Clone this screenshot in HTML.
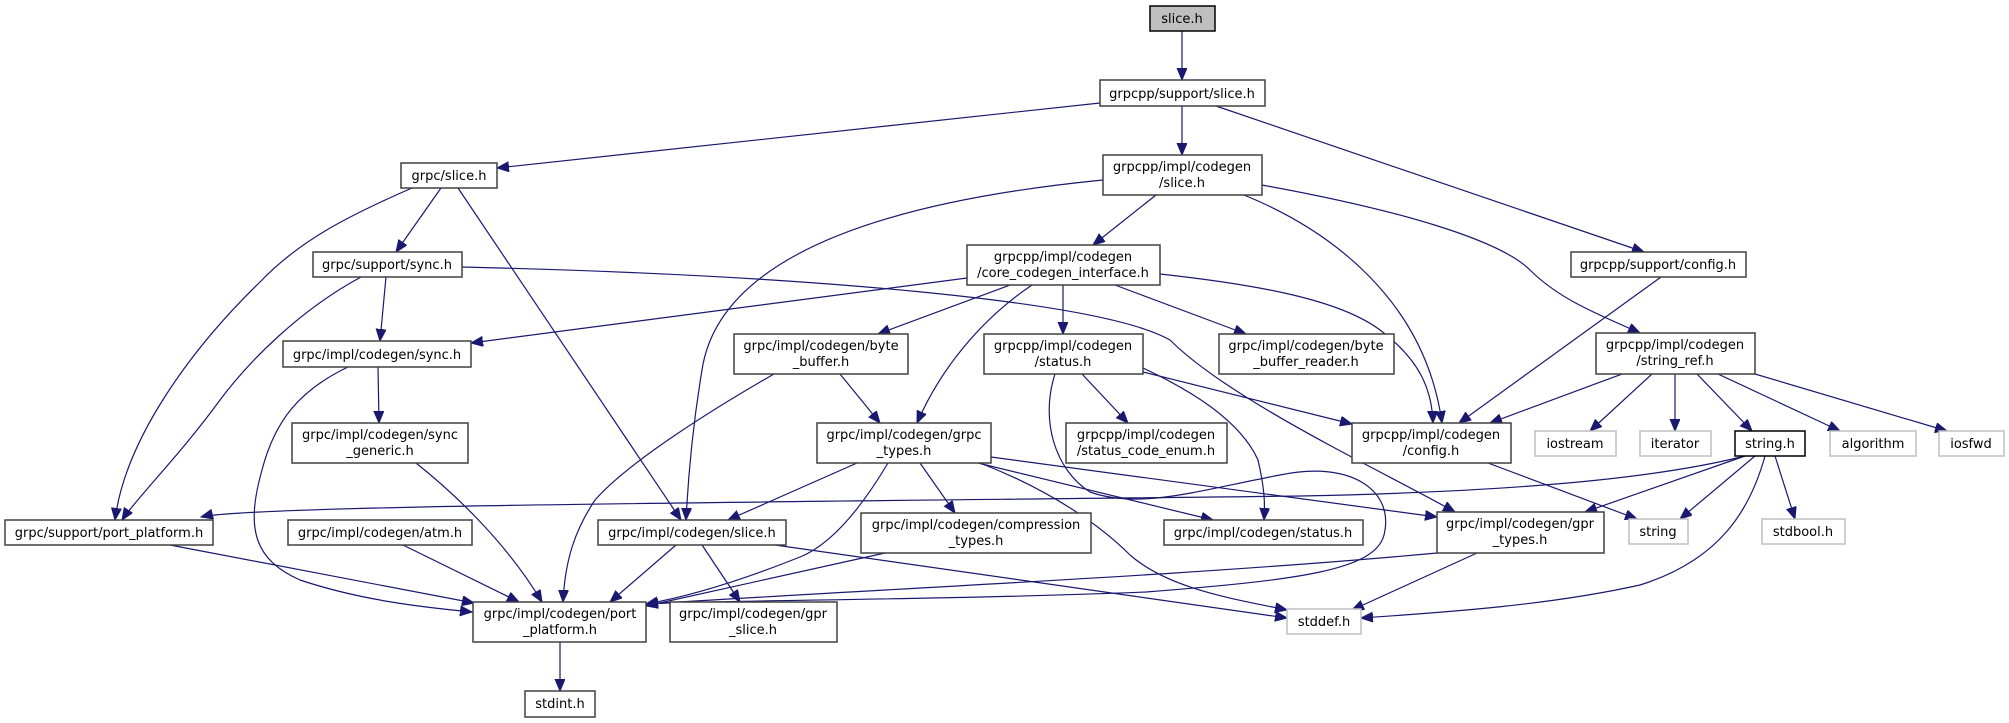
<!DOCTYPE html>
<html><head><meta charset="utf-8"><style>
html,body{margin:0;padding:0;background:#fff;}
svg{display:block;}
text{font-family:"DejaVu Sans","Liberation Sans",sans-serif;font-size:13px;fill:#000;}
.n{fill:#fff;stroke:#404040;stroke-width:1.5;}
.g{fill:#fff;stroke:#bfbfbf;stroke-width:1.5;}
.e{fill:none;stroke:#191970;stroke-width:1.2;}
</style></head><body>
<svg width="2009" height="723" viewBox="0 0 2009 723" xmlns="http://www.w3.org/2000/svg">
<defs><marker id="a" markerUnits="userSpaceOnUse" markerWidth="14" markerHeight="12" refX="12" refY="5" orient="auto"><path d="M0,0 L12,5 L0,10 z" fill="#191970" stroke="#191970"/></marker></defs>
<g class="e" marker-end="url(#a)">
<path d="M1182,31 L1182,80"/>
<path d="M1100,103 L497,168"/>
<path d="M1182,106 L1182,155"/>
<path d="M1216,106 L1644,252"/>
<path d="M412,188 C350,215 300,240 260,282 C190,350 125,440 115,520"/>
<path d="M441,188 L396,252"/>
<path d="M458,188 L681,520"/>
<path d="M361,277 C300,310 250,360 220,400 C180,455 135,500 122,520"/>
<path d="M386,277 L380,341"/>
<path d="M462,267 C800,275 1100,300 1170,340 C1230,400 1380,470 1455,512"/>
<path d="M378,367 L379,423"/>
<path d="M348,367 C300,390 275,420 262,470 C245,530 255,560 300,580 C360,600 420,607 472,612"/>
<path d="M416,463 C450,490 505,540 542,602"/>
<path d="M403,545 L519,602"/>
<path d="M170,545 L474,603"/>
<path d="M560,642 L560,691"/>
<path d="M1103,180 C900,200 720,250 702,370 C692,430 688,480 686,520"/>
<path d="M1156,195 L1093,245"/>
<path d="M1244,195 C1330,230 1425,300 1442,423"/>
<path d="M1262,185 C1400,210 1500,240 1530,270 C1560,300 1600,315 1640,333"/>
<path d="M967,278 L471,343"/>
<path d="M1010,285 L878,334"/>
<path d="M1032,285 C980,320 940,370 917,423"/>
<path d="M1063,285 L1063,334"/>
<path d="M1115,285 L1246,334"/>
<path d="M1160,274 C1260,285 1340,300 1380,330 C1420,360 1432,390 1433,423"/>
<path d="M840,374 L880,423"/>
<path d="M774,374 C720,405 630,460 595,500 C575,530 565,560 563,602"/>
<path d="M1082,374 L1128,423"/>
<path d="M1143,368 C1190,390 1240,420 1258,460 C1265,490 1265,505 1264,520"/>
<path d="M1143,372 L1352,424"/>
<path d="M1055,374 C1040,420 1055,470 1090,492 C1140,510 1200,490 1280,475 C1350,460 1395,490 1384,535 C1375,570 1300,580 1146,592 C950,600 720,600 646,604"/>
<path d="M857,463 L728,520"/>
<path d="M888,463 C860,510 830,545 800,557 C730,585 680,598 646,604"/>
<path d="M920,463 L955,513"/>
<path d="M978,463 L1213,520"/>
<path d="M980,463 C1050,490 1100,525 1130,555 C1170,590 1240,600 1287,610"/>
<path d="M991,457 L1437,517"/>
<path d="M885,553 L646,606"/>
<path d="M676,545 L610,602"/>
<path d="M702,545 L740,602"/>
<path d="M775,545 L1287,618"/>
<path d="M1661,277 L1459,423"/>
<path d="M1622,374 L1490,423"/>
<path d="M1652,374 L1590,431"/>
<path d="M1675,374 L1675,431"/>
<path d="M1697,374 L1752,431"/>
<path d="M1718,374 L1840,431"/>
<path d="M1755,374 L1947,431"/>
<path d="M1488,463 L1637,519"/>
<path d="M1745,456 C1650,480 1500,492 1300,496 C800,502 250,505 201,517"/>
<path d="M1745,456 L1585,512"/>
<path d="M1755,456 L1680,519"/>
<path d="M1775,456 L1795,519"/>
<path d="M1765,456 C1750,510 1720,560 1640,585 C1550,605 1450,612 1361,618"/>
<path d="M1437,553 C1200,575 900,588 646,604"/>
<path d="M1477,553 L1352,610"/>
</g>
<g>
<rect x="1150" y="6" width="65" height="25" fill="#bfbfbf" stroke="#000" stroke-width="1.5"/>
<rect class="n" x="1100" y="80" width="165" height="26"/>
<rect class="n" x="401" y="163" width="96" height="25"/>
<rect class="n" x="1103" y="155" width="159" height="40"/>
<rect class="n" x="1571" y="252" width="175" height="25"/>
<rect class="n" x="967" y="245" width="193" height="40"/>
<rect class="n" x="313" y="252" width="149" height="25"/>
<rect class="n" x="283" y="341" width="188" height="26"/>
<rect class="n" x="734" y="334" width="174" height="40"/>
<rect class="n" x="984" y="334" width="159" height="40"/>
<rect class="n" x="1219" y="334" width="175" height="40"/>
<rect class="n" x="1352" y="423" width="159" height="40"/>
<rect class="n" x="1596" y="333" width="159" height="41"/>
<rect class="n" x="292" y="423" width="176" height="40"/>
<rect class="n" x="817" y="423" width="174" height="40"/>
<rect class="n" x="1066" y="423" width="161" height="40"/>
<rect class="g" x="1535" y="431" width="81" height="25"/>
<rect class="g" x="1640" y="431" width="71" height="25"/>
<rect x="1735" y="431" width="70" height="25" fill="#fff" stroke="#000" stroke-width="1.5"/>
<rect class="g" x="1830" y="431" width="86" height="25"/>
<rect class="g" x="1939" y="431" width="65" height="25"/>
<rect class="n" x="5" y="520" width="208" height="25"/>
<rect class="n" x="288" y="520" width="184" height="25"/>
<rect class="n" x="598" y="520" width="188" height="25"/>
<rect class="n" x="861" y="513" width="230" height="40"/>
<rect class="n" x="1164" y="520" width="199" height="25"/>
<rect class="n" x="1437" y="512" width="167" height="41"/>
<rect class="g" x="1629" y="519" width="59" height="25"/>
<rect class="g" x="1762" y="519" width="83" height="25"/>
<rect class="n" x="473" y="602" width="173" height="40"/>
<rect class="n" x="670" y="602" width="167" height="40"/>
<rect class="g" x="1287" y="609" width="74" height="25"/>
<rect class="n" x="525" y="691" width="70" height="26"/>
</g>
<g text-anchor="middle">
<text x="1182" y="23">slice.h</text>
<text x="1182" y="98">grpcpp/support/slice.h</text>
<text x="449" y="180">grpc/slice.h</text>
<text x="1182" y="171">grpcpp/impl/codegen</text><text x="1182" y="187">/slice.h</text>
<text x="1658" y="269">grpcpp/support/config.h</text>
<text x="1063" y="261">grpcpp/impl/codegen</text><text x="1063" y="277">/core_codegen_interface.h</text>
<text x="387" y="269">grpc/support/sync.h</text>
<text x="377" y="359">grpc/impl/codegen/sync.h</text>
<text x="821" y="350">grpc/impl/codegen/byte</text><text x="821" y="366">_buffer.h</text>
<text x="1063" y="350">grpcpp/impl/codegen</text><text x="1063" y="366">/status.h</text>
<text x="1306" y="350">grpc/impl/codegen/byte</text><text x="1306" y="366">_buffer_reader.h</text>
<text x="1431" y="439">grpcpp/impl/codegen</text><text x="1431" y="455">/config.h</text>
<text x="1675" y="349">grpcpp/impl/codegen</text><text x="1675" y="365">/string_ref.h</text>
<text x="380" y="439">grpc/impl/codegen/sync</text><text x="380" y="455">_generic.h</text>
<text x="904" y="439">grpc/impl/codegen/grpc</text><text x="904" y="455">_types.h</text>
<text x="1146" y="439">grpcpp/impl/codegen</text><text x="1146" y="455">/status_code_enum.h</text>
<text x="1575" y="448">iostream</text>
<text x="1675" y="448">iterator</text>
<text x="1770" y="448">string.h</text>
<text x="1873" y="448">algorithm</text>
<text x="1971" y="448">iosfwd</text>
<text x="109" y="537">grpc/support/port_platform.h</text>
<text x="380" y="537">grpc/impl/codegen/atm.h</text>
<text x="692" y="537">grpc/impl/codegen/slice.h</text>
<text x="976" y="529">grpc/impl/codegen/compression</text><text x="976" y="545">_types.h</text>
<text x="1263" y="537">grpc/impl/codegen/status.h</text>
<text x="1520" y="528">grpc/impl/codegen/gpr</text><text x="1520" y="544">_types.h</text>
<text x="1658" y="536">string</text>
<text x="1803" y="536">stdbool.h</text>
<text x="560" y="618">grpc/impl/codegen/port</text><text x="560" y="634">_platform.h</text>
<text x="753" y="618">grpc/impl/codegen/gpr</text><text x="753" y="634">_slice.h</text>
<text x="1324" y="626">stddef.h</text>
<text x="560" y="708">stdint.h</text>
</g>
</svg>
</body></html>
